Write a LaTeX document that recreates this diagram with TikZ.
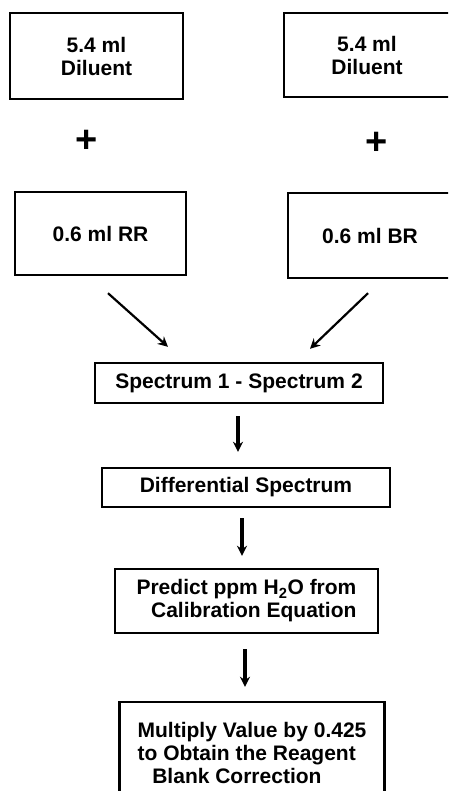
\documentclass[tikz,border=0pt]{standalone}
\usepackage{fontspec}
\setmainfont{Liberation Sans}
\usetikzlibrary{arrows.meta}

\begin{document}
\begin{tikzpicture}[
    x=1pt, y=-1pt,
    box/.style={draw, rectangle, line width=2.4pt, align=center, inner sep=0pt,
        font=\bfseries\fontsize{21}{23}\selectfont},
    plus/.style={inner sep=0pt, font=\bfseries\fontsize{38}{38}\selectfont},
    arrow/.style={-{Stealth[length=10pt,width=10pt]}, line width=2.2pt},
    down/.style={-{Stealth[length=10pt,width=10pt]}, line width=3.2pt}
]
\useasboundingbox (0,0) rectangle (448,791);
\clip (0,0) rectangle (448,791);

% diluent row
\node[box, minimum width=173pt, minimum height=86pt] (dilA) at (96.5,56) {5.4 ml\\Diluent};
\node[box, minimum width=166pt, minimum height=84pt] (dilB) at (367,55) {5.4 ml\\Diluent};

\node[plus] (plusA) at (87,141) {+};
\node[plus] (plusB) at (377,143) {+};

% reagent row
\node[box, minimum width=171pt, minimum height=83pt] (rr) at (100.5,233.5) {0.6 ml RR};
\node[box, minimum width=164pt, minimum height=85pt] (br) at (370,235.5) {0.6 ml BR};

% steps
\node[box, minimum width=288pt, minimum height=40pt] (spec) at (239,383) {Spectrum 1 - Spectrum 2};
\node[box, minimum width=288pt, minimum height=39pt] (diff) at (246,487.5) {Differential Spectrum};
\node[box, minimum width=263pt, minimum height=64pt, align=right] (pred) at (246.5,601)
    {Predict ppm H\textsubscript{2}O from\\Calibration Equation};
\node[box, minimum width=265pt, minimum height=102pt, align=left] (mult) at (252,753)
    {Multiply Value by 0.425\\to Obtain the Reagent\\\hspace*{0.7em}Blank Correction};

% merging arrows
\draw[arrow] ([xshift=7.5pt,yshift=-17pt]rr.south) -- ([xshift=-71pt,yshift=15pt]spec.north);
\draw[arrow] ([xshift=-2pt,yshift=-14pt]br.south) -- ([xshift=71pt,yshift=13pt]spec.north);

% down arrows
\draw[down] ([xshift=-1pt,yshift=-12pt]spec.south) -- ([xshift=-8pt,yshift=15pt]diff.north);
\draw[down] ([xshift=-4pt,yshift=-10pt]diff.south) -- ([xshift=-4.5pt,yshift=12pt]pred.north);
\draw[down] ([xshift=-1.5pt,yshift=-15pt]pred.south) -- ([xshift=-7pt,yshift=14pt]mult.north);

\end{tikzpicture}
\end{document}
